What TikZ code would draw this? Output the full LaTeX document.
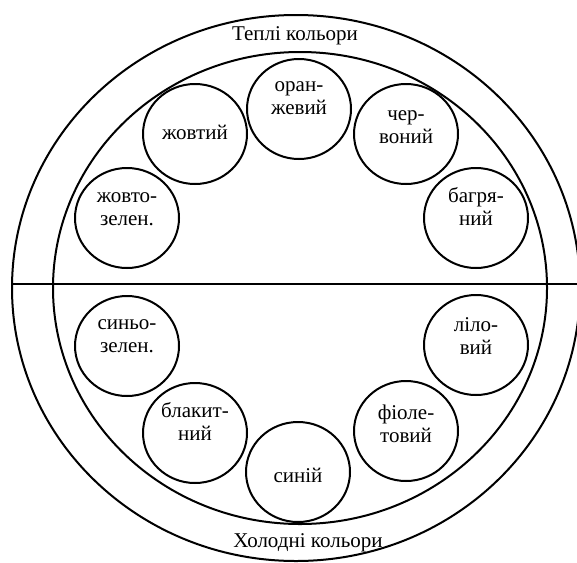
\documentclass[tikz,border=0pt]{standalone}
\usepackage{fontspec}
\setmainfont{Liberation Serif}
\usetikzlibrary{shapes.geometric}
\begin{document}
\begin{tikzpicture}[x=1pt,y=-1pt,
  ring/.style={draw, line width=2pt, ellipse, inner sep=0pt},
  swatch/.style={draw, line width=2pt, ellipse, minimum width=104pt, minimum height=100pt, inner sep=0pt},
  lbl/.style={font=\fontsize{21}{23}\selectfont, align=center, anchor=base, inner sep=0pt},
  divider/.style={line width=2pt}
]
\useasboundingbox (0,0) rectangle (577,562);
\clip (0,0) rectangle (577,562);
% rings
\node[ring, minimum width=568pt, minimum height=546pt] (outer) at (296,288) {};
\node[ring, minimum width=494pt, minimum height=472pt] (inner) at (300,288) {};
\coordinate (lineL) at (12,284);
\coordinate (lineR) at (577,284);
\draw[divider] (lineL) -- (lineR);
% colour circles
\node[swatch] (c1) at (299,109) {};
\node[swatch] (c2) at (406,134) {};
\node[swatch] (c3) at (476,218) {};
\node[swatch] (c4) at (476,345) {};
\node[swatch] (c5) at (406,431) {};
\node[swatch] (c6) at (298,472) {};
\node[swatch] (c7) at (195,433) {};
\node[swatch] (c8) at (127,346) {};
\node[swatch] (c9) at (127,218) {};
\node[swatch] (c10) at (195,134) {};
% labels (base = baseline of the last line)
\node[lbl] (t1) at (299,114) {оран-\\жевий};
\node[lbl] (t2) at (406,143) {чер-\\воний};
\node[lbl] (t3) at (476,225) {багря-\\ний};
\node[lbl] (t4) at (476,354) {ліло-\\вий};
\node[lbl] (t5) at (406,442) {фіоле-\\товий};
\node[lbl] (t6) at (298,482) {синій};
\node[lbl] (t7) at (195,440) {блакит-\\ний};
\node[lbl] (t8) at (127,352) {синьо-\\зелен.};
\node[lbl] (t9) at (127,225) {жовто-\\зелен.};
\node[lbl] (t10) at (195,139) {жовтий};
\node[lbl] (warm) at (295,40) {Теплі кольори};
\node[lbl] (cold) at (308,547) {Холодні кольори};
\end{tikzpicture}
\end{document}
